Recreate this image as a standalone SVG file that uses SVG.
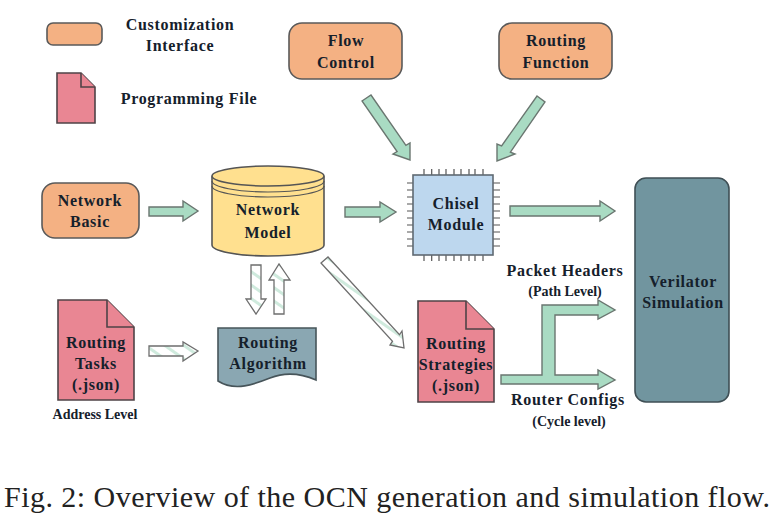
<svg xmlns="http://www.w3.org/2000/svg" width="780" height="523" viewBox="0 0 780 523">
<style>
text{font-family:"Liberation Serif","Times New Roman",serif;font-weight:bold;fill:#15202b;text-anchor:middle;letter-spacing:.7px}
.l{font-size:16px}
.s{font-size:14px;letter-spacing:0}
.o{fill:#f4b183;stroke:#5a5a5a;stroke-width:1.6}
.f{fill:#e98693;stroke:#4f4347;stroke-width:1.6}
.a{fill:#a9dbc3;stroke:#6a7670;stroke-width:1.4}
.h{fill:url(#hatch);stroke:#6e6e6e;stroke-width:1.3}
.p{stroke:#555;stroke-width:1.2;fill:none}
#caption{font-weight:normal;font-size:30px;letter-spacing:.47px;fill:#222;text-anchor:start}
</style>
<defs>
<pattern id="hatch" width="11" height="11" patternUnits="userSpaceOnUse" patternTransform="rotate(35)">
<rect width="11" height="11" fill="#fff"/><rect width="11" height="3" fill="#cfeadd"/>
</pattern>
</defs>
<rect width="780" height="523" fill="#fff"/>
<g id="connectors">
<path class="a" d="M149 207H183V201L198 211L183 221V216H149Z"/>
<path class="a" d="M345 207H380V202L396 212L380 222V217H345Z"/>
<path class="a" d="M362 101L371 95L405.900 145.400L410 143V160L393 154L397.100 151.600Z"/>
<path class="a" d="M537 96L545 102L510.400 152.100L515 154L497 161V144L501.600 145.900Z"/>
<path class="a" d="M510 206H600V201L615 211L600 221V216H510Z"/>
<path class="h" d="M251 265H261V299H266L256 314L246 299H251Z"/>
<path class="h" d="M274 314H284V280H290L279 264L269 280H274Z"/>
<path class="h" d="M149 346H183V342L198 351L183 361V356H149Z"/>
<path class="h" d="M321 263L328 257L399.500 334.800L402 331L404 348L390 345L392.500 341.200Z"/>
<path class="a" d="M501 375H542V305H598V300L615 310L598 319V315H555V375H598V370L615 380L598 389V384H501Z"/>
</g>
<g id="legend-interface"><rect class="o" x="47" y="23" width="55" height="22" rx="6"/><text class="l" x="180" y="30">Customization</text><text class="l" x="180" y="51">Interface</text></g>
<g id="legend-file"><path class="f" d="M57 73H81L95 87V123H57Z"/><path class="f" d="M81 73V87H95"/><text class="l" x="189" y="104">Programming File</text></g>
<g id="flow-control"><rect class="o" x="289" y="23" width="113" height="56" rx="13"/><text class="l" x="346" y="46">Flow</text><text class="l" x="346" y="68">Control</text></g>
<g id="routing-function"><rect class="o" x="499" y="23" width="113" height="56" rx="13"/><text class="l" x="556" y="46">Routing</text><text class="l" x="556" y="68">Function</text></g>
<g id="network-basic"><rect class="o" x="42" y="183" width="97" height="55" rx="13"/><text class="l" x="90" y="206">Network</text><text class="l" x="90" y="227">Basic</text></g>
<g id="network-model">
<path d="M212 177V245C212 251 237 256 268 256S324 251 324 245V177Z" fill="#ffe08f" stroke="#555" stroke-width="1.6"/>
<ellipse cx="268" cy="176" rx="56" ry="10" fill="#ffe08f" stroke="#555" stroke-width="1.6"/>
<path class="p" d="M212 181C212 187 237 192 268 192S324 187 324 181M212 186C212 192 237 197 268 197S324 192 324 186"/>
<text class="l" x="268" y="215">Network</text><text class="l" x="268" y="238">Model</text>
</g>
<g id="chisel-module">
<path class="p" d="M424 169V175M431.700 169V175M439 169V175M446 169V175M454 169V175M461 169V175M469 169V175M475 169V175M483 169V175M424 255V261M431.700 255V261M439 255V261M446 255V261M454 255V261M461 255V261M469 255V261M475 255V261M483 255V261M407 183H413M407 190H413M407 197H413M407 204H413M407 211H413M407 218H413M407 225H413M407 232H413M407 239H413M407 246H413M493 183H500M493 190H500M493 197H500M493 204H500M493 211H500M493 218H500M493 225H500M493 232H500M493 239H500M493 246H500"/>
<rect x="413" y="175" width="80" height="80" fill="#bdd7ee" stroke="#5f6a72" stroke-width="1.6"/>
<text class="l" x="456" y="209">Chisel</text><text class="l" x="456" y="230">Module</text>
</g>
<g id="verilator-simulation"><rect x="635" y="178" width="94" height="224" rx="11" fill="#71959f" stroke="#3f4f55" stroke-width="1.6"/><text class="l" x="683" y="287">Verilator</text><text class="l" x="683" y="308">Simulation</text></g>
<g id="routing-tasks"><path class="f" d="M58 300H107L134 327V400H58Z"/><path class="f" d="M107 300V327H134"/><text class="l" x="96" y="348">Routing</text><text class="l" x="96" y="369">Tasks</text><text class="l" x="96" y="390">(.json)</text></g>
<text class="s" x="95" y="419">Address Level</text>
<g id="routing-algorithm"><path d="M218 328H316V380C300 373 285 372 270 378S235 392 218 381Z" fill="#8aa7b2" stroke="#47555a" stroke-width="1.6"/><text class="l" x="268" y="348">Routing</text><text class="l" x="268" y="369">Algorithm</text></g>
<g id="routing-strategies"><path class="f" d="M418 301H466L494 329V402H418Z"/><path class="f" d="M466 301V329H494"/><text class="l" x="456" y="349">Routing</text><text class="l" x="456" y="370">Strategies</text><text class="l" x="456" y="391">(.json)</text></g>
<text class="l" x="565" y="276">Packet Headers</text>
<text class="s" x="565" y="296">(Path Level)</text>
<text class="l" x="568" y="405">Router Configs</text>
<text class="s" x="569" y="426">(Cycle level)</text>
<text id="caption" x="4" y="507">Fig. 2: Overview of the OCN generation and simulation flow.</text>
</svg>
